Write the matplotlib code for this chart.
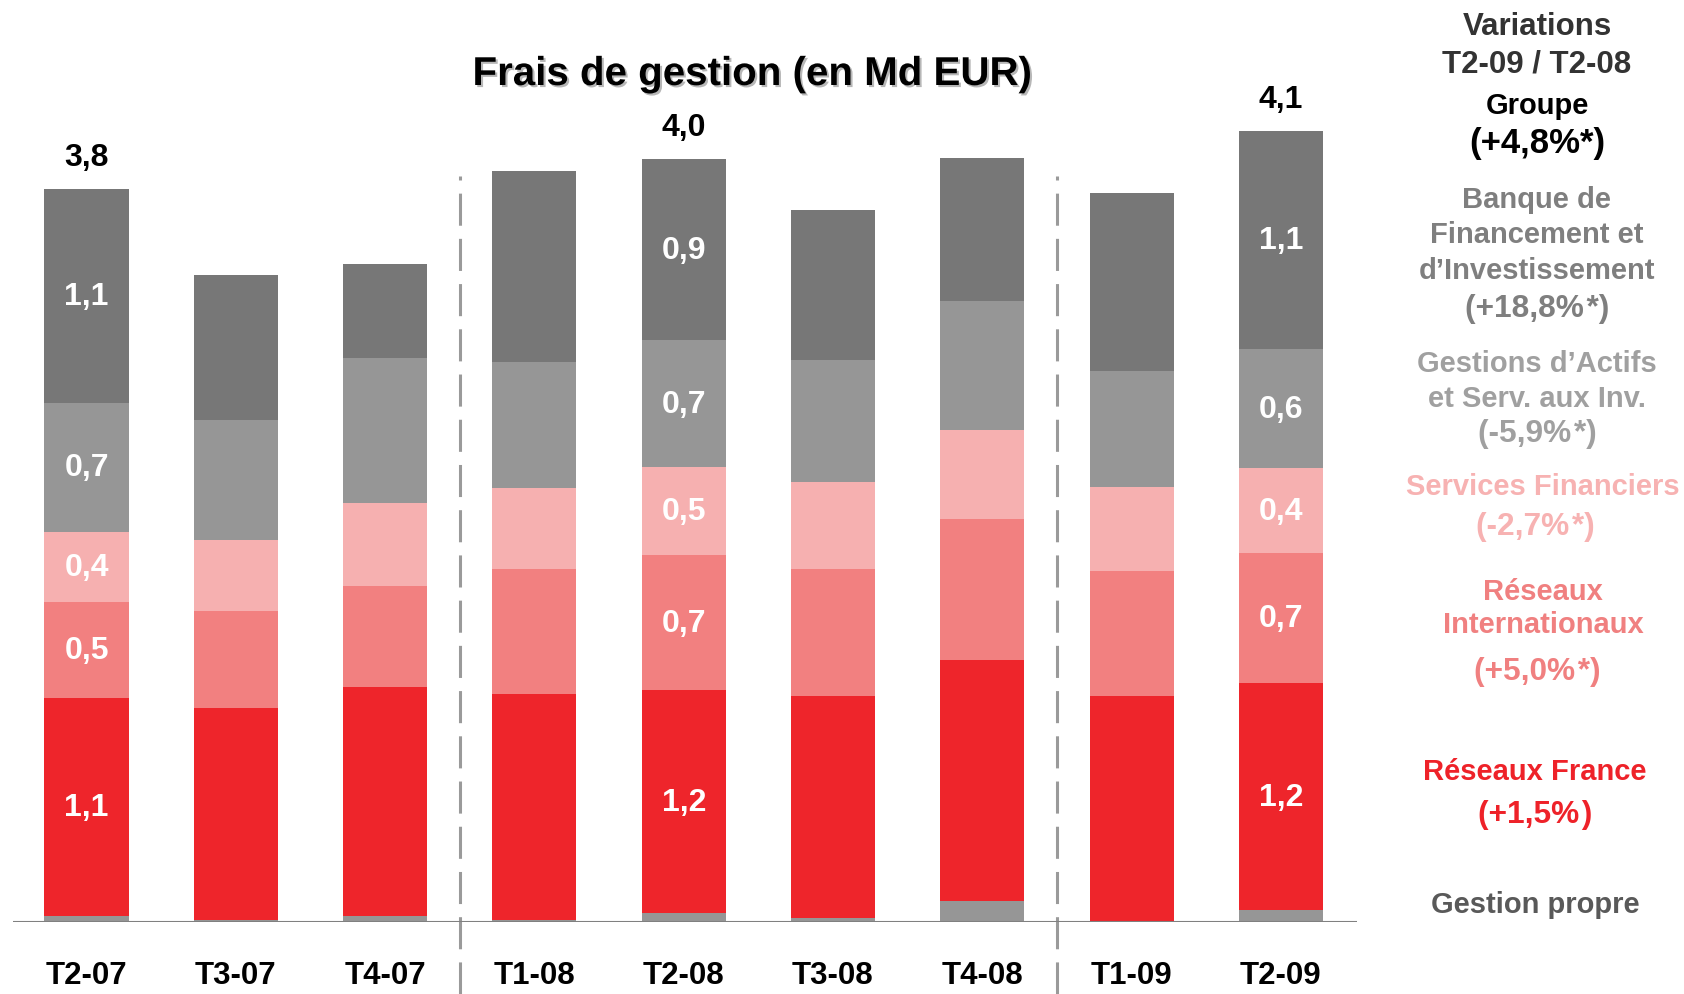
import matplotlib
matplotlib.use("Agg")
import matplotlib.pyplot as plt
import matplotlib.patheffects as pe
import numpy as np

plt.rcParams['font.family'] = ['Liberation Sans', 'DejaVu Sans']
plt.rcParams['font.weight'] = 'bold'

# Données (Md EUR)
trimestres = ['T2-07', 'T3-07', 'T4-07', 'T1-08', 'T2-08', 'T3-08', 'T4-08', 'T1-09', 'T2-09']
gestion_propre = [0.03, 0.01, 0.03, 0.01, 0.045, 0.02, 0.11, 0.00, 0.06]
reseaux_france = [1.13, 1.10, 1.19, 1.17, 1.155, 1.15, 1.25, 1.17, 1.18]
reseaux_inter = [0.50, 0.50, 0.52, 0.65, 0.70, 0.66, 0.73, 0.65, 0.67]
services_fin = [0.36, 0.37, 0.43, 0.42, 0.455, 0.45, 0.46, 0.435, 0.44]
gestion_actifs = [0.67, 0.62, 0.75, 0.65, 0.66, 0.63, 0.67, 0.60, 0.62]
bfi = [1.11, 0.75, 0.49, 0.99, 0.937, 0.78, 0.74, 0.92, 1.13]
barres_etiquetees = [0, 4, 8]

series = [gestion_propre, reseaux_france, reseaux_inter, services_fin, gestion_actifs, bfi]
couleurs = ['#969696', '#EE252B', '#F28080', '#F6B0B0', '#969696', '#777777']

W, H = 1684, 995
fig = plt.figure(figsize=(W / 100, H / 100), dpi=100)
base_px = 923   # ligne de base (px depuis le haut)
px_par_md = 193.0
x0_px, pas_px = 86.5, 149.3
gauche, droite = 13, 1357
ax = fig.add_axes([gauche / W, (H - base_px) / H, (droite - gauche) / W, base_px / H])
ax.set_xlim((gauche - x0_px) / pas_px, (droite - x0_px) / pas_px)
ax.set_ylim(0, base_px / px_par_md)

x = np.arange(len(trimestres))
larg = 0.563
bas = np.zeros(len(trimestres))
for k, (vals, c) in enumerate(zip(series, couleurs)):
    vals = np.array(vals)
    ax.bar(x, vals, larg, bottom=bas, color=c, linewidth=0, zorder=2)
    if k > 0:
        for i in barres_etiquetees:
            ax.text(x[i], bas[i] + vals[i] / 2, f"{vals[i]:.1f}".replace('.', ','),
                    ha='center', va='center', color='white', fontsize=23, fontweight='bold', zorder=3)
    bas = bas + vals

for i in barres_etiquetees:
    ax.annotate(f"{bas[i]:.1f}".replace('.', ','), xy=(x[i], bas[i]), xytext=(0, 32),
                textcoords='offset pixels', ha='center', va='center', fontsize=23,
                fontweight='bold', color='black')

# ligne de base
ax.axhline(0, color='#808080', lw=1.5, zorder=4)

# séparateurs d'années
for xs in [2.5, 6.5]:
    ax.plot([xs, xs], [-(H - base_px) / px_par_md, (base_px - 177) / px_par_md],
            color='#9a9a9a', lw=2.2, linestyle=(0, (10.5, 4.3)), clip_on=False, zorder=1)

ax.set_xticks(x)
ax.set_xticklabels(trimestres, fontsize=22.5, fontweight='bold', color='black')
ax.tick_params(axis='x', length=0, pad=27.5)
ax.set_yticks([])
for s in ax.spines.values():
    s.set_visible(False)

fig.text(752 / W, 1 - 75 / H, "Frais de gestion (en Md EUR)", ha='center', va='center',
         fontsize=29, fontweight='bold', color='black',
         path_effects=[pe.withSimplePatchShadow(offset=(1.5, -1.5), shadow_rgbFace='#888888', alpha=0.6)])

# Légende à droite
hs = '\u200a'
lignes = [
    ("Variations", 1537, 27, 22.5, '#333333'),
    ("T2-09 / T2-08", 1537, 65, 22.5, '#333333'),
    ("Groupe", 1537, 106, 21, 'black'),
    ("(+4,8%*)", 1537, 143, 25, 'black'),
    ("Banque de", 1537, 200, 21, '#7f7f7f'),
    ("Financement et", 1537, 235, 21, '#7f7f7f'),
    ("d\u2019Investissement", 1537, 271, 21, '#7f7f7f'),
    ("(+18,8%" + hs + "*)", 1537, 309, 22.8, '#7f7f7f'),
    ("Gestions d\u2019Actifs", 1537, 364, 21, '#a0a0a0'),
    ("et Serv. aux Inv.", 1537, 399, 21, '#a0a0a0'),
    ("(-5,9%" + hs + "*)", 1537, 434, 22.8, '#a0a0a0'),
    ("Services Financiers", 1543, 487, 21, '#F7B2B2'),
    ("(-2,7%" + hs + "*)", 1535, 527, 22.8, '#F7B2B2'),
    ("Réseaux", 1543, 592, 21, '#F08080'),
    ("Internationaux", 1543, 625, 21, '#F08080'),
    ("(+5,0%" + hs + "*)", 1537, 672, 22.8, '#F08080'),
    ("Réseaux France", 1535, 772, 21, '#EE2229'),
    ("(+1,5%" + hs + ")", 1535, 815, 22.8, '#EE2229'),
    ("Gestion propre", 1535, 905, 21, '#595959'),
]
for txt, xp, yp, fs, col in lignes:
    fig.text(xp / W, 1 - yp / H, txt, ha='center', va='center', fontsize=fs,
             fontweight='bold', color=col)

fig.savefig('out.png', dpi=100)
